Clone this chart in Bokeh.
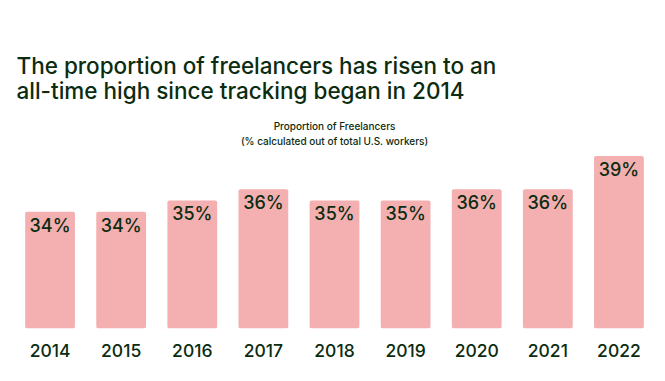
from bokeh.plotting import figure
from bokeh.models import ColumnDataSource, Range1d, Label
from bokeh.core.properties import value
from bokeh.embed import file_html
from bokeh.resources import INLINE

years = ["2014", "2015", "2016", "2017", "2018", "2019", "2020", "2021", "2022"]
shares = [34, 34, 35, 36, 35, 35, 36, 36, 39]
share_labels = [f"{v}%" for v in shares]

title_lines = ["The proportion of freelancers has risen to an",
               "all-time high since tracking began in 2014"]
subtitle_lines = ["Proportion of Freelancers",
                  "(% calculated out of total U.S. workers)"]

GREEN = "#0b2c10"
PINK = "#f4afb0"
FONT = "Inter Medium, Inter"

W, H = 657, 365
FRAME_L = 14
FRAME_BOTTOM = 327.7
Y0 = 23.52           # base of value axis
PX_PER_UNIT = 11.14  # vertical pixels per percentage point
Y1 = Y0 + FRAME_BOTTOM / PX_PER_UNIT
PITCH = 71.1

p = figure(x_range=years, y_range=Range1d(Y0, Y1), width=W, height=H,
           output_backend="svg", toolbar_location=None, y_axis_location=None,
           min_border_left=FRAME_L, min_border_right=int(W - FRAME_L - 9 * PITCH),
           min_border_top=0, min_border_bottom=int(round(H - FRAME_BOTTOM)))
p.outline_line_color = None
p.grid.visible = False
p.background_fill_color = "white"
p.border_fill_color = "white"

src = ColumnDataSource(dict(year=years, share=shares, label=share_labels))
p.vbar(x="year", top="share", bottom=Y0, width=0.70, source=src,
       fill_color=PINK, line_color=None, border_radius=2)
p.text(x="year", y="share", text="label", source=src, text_align="center",
       text_baseline="top", y_offset=3, text_color=GREEN,
       text_font=value(FONT), text_font_size="18px")

ax = p.xaxis[0]
ax.axis_line_color = None
ax.major_tick_line_color = None
ax.minor_tick_line_color = None
ax.major_label_standoff = 9
ax.major_label_text_font = FONT
ax.major_label_text_font_size = "17.5px"
ax.major_label_text_color = GREEN


def px_x(page_x):
    return (page_x - FRAME_L) / PITCH


def px_y(page_y):
    return Y0 + (FRAME_BOTTOM - page_y) / PX_PER_UNIT


for line, base in zip(title_lines, [65, 90]):
    p.add_layout(Label(x=px_x(16), y=px_y(base), text=line, text_align="left",
                       text_baseline="alphabetic", text_color=GREEN,
                       text_font=FONT, text_font_size="22.5px"))

for line, base in zip(subtitle_lines, [125, 140.5]):
    p.add_layout(Label(x=px_x(334), y=px_y(base), text=line, text_align="center",
                       text_baseline="alphabetic", text_color=GREEN,
                       text_font=FONT, text_font_size="10px"))

open("out.html", "w").write(file_html(p, INLINE))
